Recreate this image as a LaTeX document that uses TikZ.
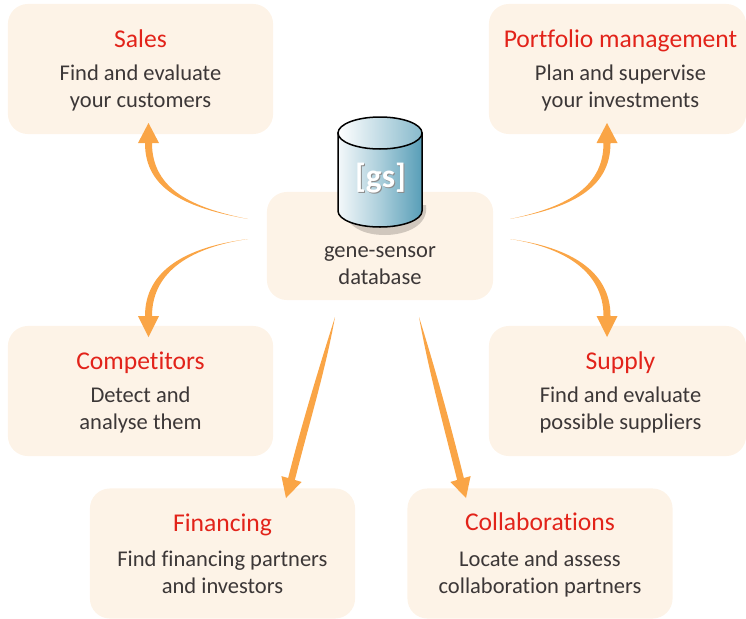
\documentclass[tikz,border=0pt]{standalone}
\usepackage{fontspec}
\setmainfont[Ligatures=NoCommon]{Carlito}
\usetikzlibrary{calc}
\definecolor{panelfill}{RGB}{253,243,231}
\definecolor{flowfill}{RGB}{250,165,70}
\definecolor{titlered}{RGB}{226,35,26}
\definecolor{bodygrey}{RGB}{60,55,55}
\definecolor{dbdark}{RGB}{45,133,165}
\pgfdeclarehorizontalshading{dbside}{100bp}{
	color(0bp)=(dbdark!55!white); color(18bp)=(dbdark!10!white); color(21bp)=(white);
	color(50bp)=(dbdark!40!white); color(88bp)=(dbdark); color(100bp)=(dbdark!75!white)}
\pgfdeclarehorizontalshading{dbtop}{100bp}{
	color(0bp)=(dbdark!35!white); color(25bp)=(white); color(60bp)=(dbdark!40!white); color(100bp)=(dbdark!85!white)}
\tikzset{
	paneltext/.style={inner sep=0pt, text=bodygrey, align=center, font=\fontsize{6.4}{7.7}\selectfont},
	panel/.style={paneltext, fill=panelfill, rounded corners=0.2cm, minimum width=2.65cm, minimum height=1.3cm},
	flow/.style={fill=flowfill, draw=none}
}
\newcommand{\paneltitle}[2][1.9pt]{\rule{0pt}{5.9pt}{\fontsize{7.28}{8}\selectfont\textcolor{titlered}{#2}}\\[#1]}
\newcommand{\flowarrow}[7]{
	\coordinate (sl) at ($#4!#6!90:#5$);
	\coordinate (sr) at ($#4!#6!-90:#5$);
	\coordinate (hl) at ($#4!#7!90:#5$);
	\coordinate (hr) at ($#4!#7!-90:#5$);
	\fill[flow] #1 .. controls ($#2+(sl)-#4$) and ($#3+(sl)-#4$) .. (sl) -- (hl) -- #5 -- (hr) -- (sr)
		.. controls ($#3+(sr)-#4$) and ($#2+(sr)-#4$) .. #1 -- cycle;
}
\begin{document}
\begin{tikzpicture}[x=0.01cm, y=-0.01cm]
	\useasboundingbox (0,0) rectangle (746,618);
	% panels
	\node[panel] (sales) at (140.5,69) {\paneltitle{Sales}Find and evaluate\\your customers};
	\node[panel, minimum width=2.57cm] (portfolio) at (617.5,69) {};
	\node[paneltext] (portfoliotext) at (620.5,69) {\paneltitle{Portfolio management}Plan and supervise\\your investments};
	\node[panel] (competitors) at (140.5,391) {\paneltitle{Competitors}Detect and\\analyse them};
	\node[panel, minimum width=2.57cm] (supply) at (617.5,391) {};
	\node[paneltext] (supplytext) at (620.5,391) {\paneltitle{Supply}Find and evaluate\\possible suppliers};
	\node[panel] (financing) at (222.5,553.5) {\paneltitle[2.4pt]{Financing}Find financing partners\\and investors\rule[-0.85pt]{0pt}{0.85pt}};
	\node[panel] (collab) at (540,553.5) {\paneltitle[2.4pt]{Collaborations}Locate and assess\\collaboration partners\rule[-0.85pt]{0pt}{0.85pt}};
	\node[panel, minimum width=2.26cm, minimum height=1.08cm] (genedb) at (380,246) {};
	\node[paneltext] (genelabel) at (380,266) {gene-sensor\\database};
	% cylinder
	\fill[black!18!panelfill] (342,205) -- (426,205) .. controls (429,226) and (405,235) .. (385,235) .. controls (365,235) and (345,228) .. cycle;
	\draw[line width=0.15mm, shading=dbside, shading angle=0] (338,133) -- (338,211) arc[start angle=180, end angle=0, x radius=42, y radius=16] -- (422,133) -- cycle;
	\draw[line width=0.15mm, shading=dbtop, shading angle=0] (380,133) ellipse[x radius=42, y radius=16];
	\node[text=black!45, font=\fontsize{9.5}{10}\selectfont\bfseries, inner sep=0pt] at (381.5,179) {[gs]};
	\node[text=white, font=\fontsize{9.5}{10}\selectfont\bfseries, inner sep=0pt] (dbname) at (380.5,178) {[gs]};
	% arrows
	\coordinate (dbsales) at (248,219);
	\coordinate (dbcomp) at (248,239);
	\coordinate (dbport) at (510,219);
	\coordinate (dbsupply) at (510,239);
	\coordinate (dbfin) at (335,317);
	\coordinate (dbcoll) at (419,317);
	\coordinate (salestip) at (148.5,123);
	\coordinate (comptip) at (148.5,337);
	\coordinate (porttip) at (607,123);
	\coordinate (supplytip) at (607,337);
	\coordinate (fintip) at (286,498);
	\coordinate (colltip) at (466,498);
	\flowarrow{(dbsales)}{(190,208)}{(148.5,190)}{(148.5,143)}{(salestip)}{0.035cm}{0.105cm}
	\flowarrow{(dbcomp)}{(190,247)}{(148.5,270)}{(148.5,316)}{(comptip)}{0.035cm}{0.105cm}
	\flowarrow{(dbport)}{(565,208)}{(607,190)}{(607,143)}{(porttip)}{0.035cm}{0.105cm}
	\flowarrow{(dbsupply)}{(565,247)}{(607,270)}{(607,316)}{(supplytip)}{0.035cm}{0.105cm}
	\flowarrow{(dbfin)}{(322,370)}{(305,425)}{(291.5,479)}{(fintip)}{0.035cm}{0.105cm}
	\flowarrow{(dbcoll)}{(432,370)}{(447,425)}{(460.5,479)}{(colltip)}{0.035cm}{0.105cm}
\end{tikzpicture}
\end{document}
